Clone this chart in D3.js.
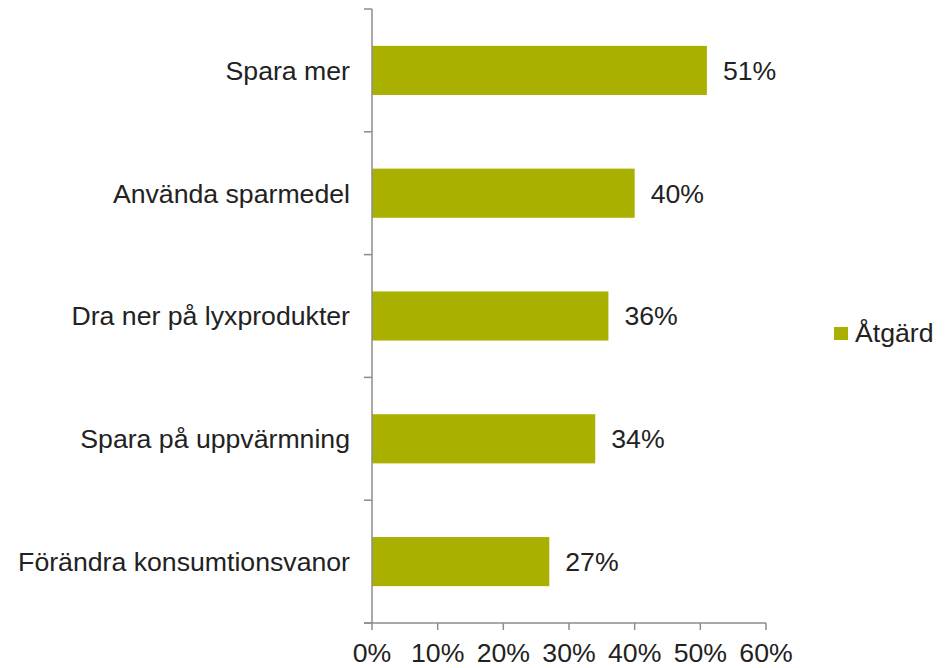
<!DOCTYPE html>
<html>
<head>
<meta charset="utf-8">
<script src="https://cdn.jsdelivr.net/npm/d3@7"></script>
<style>
  html, body { margin: 0; padding: 0; background: #fff; }
  text { font-family: "Liberation Sans", Arial, sans-serif; fill: #222; }
</style>
</head>
<body>
<script>
const categories = ["Spara mer", "Använda sparmedel", "Dra ner på lyxprodukter", "Spara på uppvärmning", "Förändra konsumtionsvanor"];
const values = [0.51, 0.40, 0.36, 0.34, 0.27];
const tickValues = [0, 0.1, 0.2, 0.3, 0.4, 0.5, 0.6];
const seriesName = "Åtgärd";

const W = 949, H = 668;
const x0 = 372, x1 = 766, yTop = 9, yBot = 623;
const barColor = "#A9B000";
const axisColor = "#8c8c8c";
const fs = 26.67;

const svg = d3.select("body").append("svg").attr("width", W).attr("height", H);

const x = d3.scaleLinear().domain([0, 0.6]).range([x0, x1]);
const y = d3.scaleBand().domain(categories).range([yTop, yBot]).paddingInner(0.6).paddingOuter(0.3);
const yb = d3.scaleBand().domain(categories).range([yTop, yBot]);

// bars
svg.selectAll("rect.bar").data(categories).enter().append("rect")
  .attr("class", "bar")
  .attr("x", x(0))
  .attr("y", d => y(d))
  .attr("width", (d, i) => x(values[i]) - x(0))
  .attr("height", y.bandwidth())
  .attr("fill", barColor);

// y axis line and ticks (between categories)
svg.append("line").attr("x1", x0).attr("x2", x0).attr("y1", yTop).attr("y2", yBot)
  .attr("stroke", axisColor).attr("stroke-width", 1.5);
const boundaries = categories.map(d => yb(d)).concat([yBot]);
svg.selectAll("line.ytick").data(boundaries).enter().append("line")
  .attr("x1", x0 - 8).attr("x2", x0).attr("y1", d => d).attr("y2", d => d)
  .attr("stroke", axisColor).attr("stroke-width", 1.5);

// category labels
svg.selectAll("text.cat").data(categories).enter().append("text")
  .attr("x", x0 - 22)
  .attr("y", d => y(d) + y.bandwidth() / 2)
  .attr("dy", "0.35em")
  .attr("text-anchor", "end")
  .attr("font-size", fs)
  .text(d => d);

// x axis
svg.append("line").attr("x1", x0 - 8).attr("x2", x1).attr("y1", yBot).attr("y2", yBot)
  .attr("stroke", axisColor).attr("stroke-width", 1.5);
svg.selectAll("line.xtick").data(tickValues).enter().append("line")
  .attr("x1", d => x(d)).attr("x2", d => x(d)).attr("y1", yBot).attr("y2", yBot + 7)
  .attr("stroke", axisColor).attr("stroke-width", 1.5);
svg.selectAll("text.xt").data(tickValues).enter().append("text")
  .attr("x", d => x(d))
  .attr("y", 662)
  .attr("text-anchor", "middle")
  .attr("font-size", fs)
  .text(d => d3.format(".0%")(d));

// value labels
svg.selectAll("text.val").data(categories).enter().append("text")
  .attr("x", (d, i) => x(values[i]) + 16)
  .attr("y", d => y(d) + y.bandwidth() / 2)
  .attr("dy", "0.35em")
  .attr("font-size", fs)
  .text((d, i) => d3.format(".0%")(values[i]));

// legend
svg.append("rect").attr("x", 834).attr("y", 327).attr("width", 14).attr("height", 13).attr("fill", barColor);
svg.append("text").attr("x", 855).attr("y", 342).attr("font-size", fs).text(seriesName);
</script>
</body>
</html>
